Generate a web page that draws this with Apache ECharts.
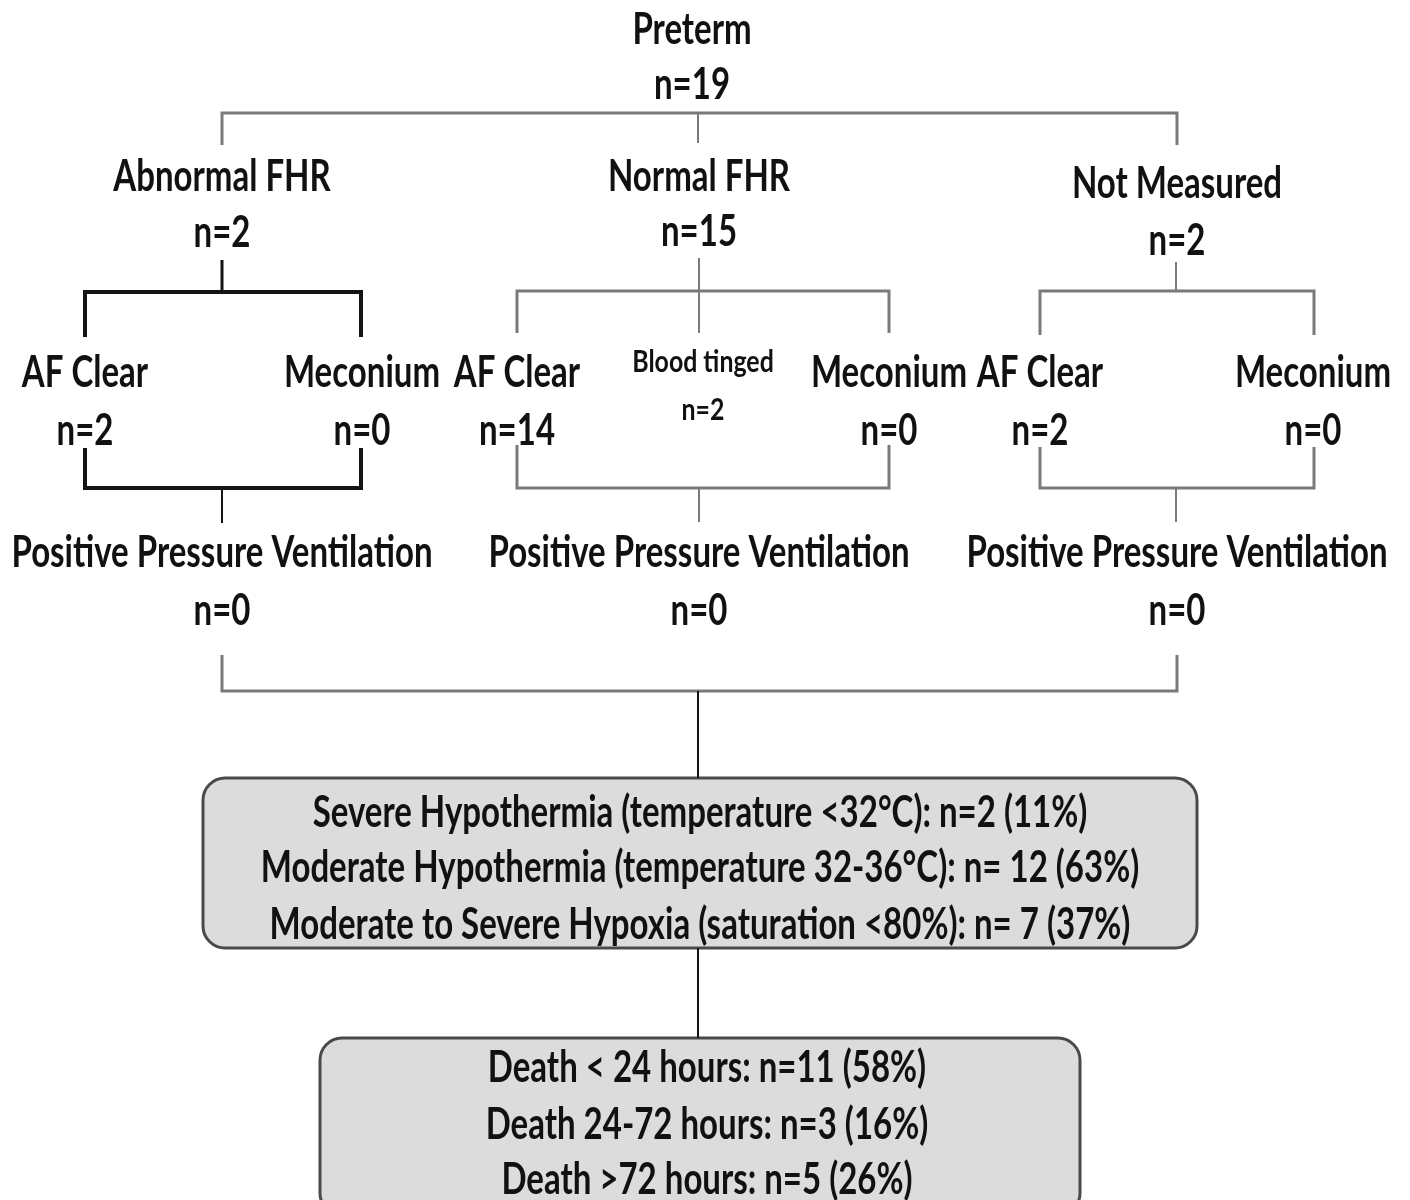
<!DOCTYPE html>
<html>
<head>
<meta charset="utf-8">
<script src="https://cdn.jsdelivr.net/npm/echarts@6/dist/echarts.min.js"></script>
<style>
  html, body { margin: 0; padding: 0; background: #fff; }
  #main { width: 1410px; height: 1200px; }
</style>
</head>
<body>
<div id="main"></div>
<script>
// ---- data ----
const rootName = 'Preterm';
const rootCount = 19;
const fhrGroups = ['Abnormal FHR', 'Normal FHR', 'Not Measured'];
const fhrCounts = [2, 15, 2];
const fluidNames = [['AF Clear', 'Meconium'], ['AF Clear', 'Blood tinged', 'Meconium'], ['AF Clear', 'Meconium']];
const fluidCounts = [[2, 0], [14, 2, 0], [2, 0]];
const ppvName = 'Positive Pressure Ventilation';
const ppvCounts = [0, 0, 0];
const hypoNames = [
  'Severe Hypothermia (temperature <32°C): n=',
  'Moderate Hypothermia (temperature 32-36°C): n= ',
  'Moderate to Severe Hypoxia (saturation <80%): n= '
];
const hypoCounts = [2, 12, 7];
const hypoPct = [11, 63, 37];
const deathNames = ['Death < 24 hours: n=', 'Death 24-72 hours: n=', 'Death >72 hours: n='];
const deathCounts = [11, 3, 5];
const deathPct = [58, 16, 26];

// ---- layout (pixel-like coords on a hidden 1410 x 1200 grid) ----
const colX = [222, 699, 1177];
const fluidX = [[85, 362], [517, 703, 889], [1040, 1313]];
const grpNameY = [177, 177, 184];
const grpCountY = [233, 232, 241];
const GRAY = '#7a7a7a', BLACK = '#141414';

var chartDom = document.getElementById('main');
var myChart = echarts.init(chartDom, null, { renderer: 'canvas' });

// texts
let texts = [];
function addText(x, y, text, size, sx) {
  texts.push({ value: [x, y], text: text, size: size || 44, sx: sx || 0.75 });
}
addText(692, 30, rootName);
addText(692, 85, 'n=' + rootCount);
fhrGroups.forEach((g, i) => {
  addText(colX[i], grpNameY[i], g);
  addText(colX[i], grpCountY[i], 'n=' + fhrCounts[i]);
  fluidNames[i].forEach((f, j) => {
    if (f === 'Blood tinged') {
      addText(fluidX[i][j], 362, f, 30, 0.83);
      addText(fluidX[i][j], 410, 'n=' + fluidCounts[i][j], 30, 0.83);
    } else {
      addText(fluidX[i][j], 373, f);
      addText(fluidX[i][j], 431, 'n=' + fluidCounts[i][j]);
    }
  });
  addText(colX[i], 553, ppvName);
  addText(colX[i], 611, 'n=' + ppvCounts[i]);
});
hypoNames.forEach((h, i) => {
  addText(700, [813, 868, 925][i], h + hypoCounts[i] + ' (' + hypoPct[i] + '%)');
});
deathNames.forEach((d, i) => {
  addText(707, [1068, 1125, 1180][i], d + deathCounts[i] + ' (' + deathPct[i] + '%)');
});

// connectors
function seg(coords, color, width) {
  return { coords: coords, lineStyle: { color: color, width: width } };
}
const connectors = [
  seg([[222, 145], [222, 113], [1177, 113], [1177, 145]], GRAY, 3),
  seg([[698, 113], [698, 143]], GRAY, 2),
  // upper brackets
  seg([[222, 260], [222, 292]], BLACK, 3),
  seg([[85, 337], [85, 292], [361, 292], [361, 337]], BLACK, 4),
  seg([[699, 258], [699, 333]], GRAY, 2),
  seg([[517, 333], [517, 291], [889, 291], [889, 333]], GRAY, 3),
  seg([[1176, 262], [1176, 291]], GRAY, 2),
  seg([[1040, 335], [1040, 291], [1314, 291], [1314, 335]], GRAY, 3),
  // lower brackets
  seg([[85, 448], [85, 488], [361, 488], [361, 448]], BLACK, 4),
  seg([[222, 488], [222, 523]], BLACK, 2),
  seg([[517, 445], [517, 488], [889, 488], [889, 445]], GRAY, 3),
  seg([[699, 488], [699, 522]], GRAY, 2),
  seg([[1040, 447], [1040, 488], [1314, 488], [1314, 447]], GRAY, 3),
  seg([[1176, 488], [1176, 522]], GRAY, 2),
  // merge to outcomes
  seg([[222, 655], [222, 691], [1177, 691], [1177, 655]], GRAY, 3),
  seg([[698, 691], [698, 778]], BLACK, 2),
  seg([[698, 948], [698, 1038]], BLACK, 2)
];

const boxes = [
  { value: [203, 778, 1197, 948] },
  { value: [320, 1038, 1080, 1215] }
];

var option = {
  animation: false,
  grid: { left: 0, right: 0, top: 0, bottom: 0 },
  xAxis: { type: 'value', min: 0, max: 1410, show: false },
  yAxis: { type: 'value', min: 0, max: 1200, inverse: true, show: false },
  series: [
    {
      type: 'custom',
      coordinateSystem: 'cartesian2d',
      data: boxes,
      encode: { x: [0, 2], y: [1, 3] },
      renderItem: function (params, api) {
        const p1 = api.coord([api.value(0), api.value(1)]);
        const p2 = api.coord([api.value(2), api.value(3)]);
        return {
          type: 'rect',
          shape: { x: p1[0], y: p1[1], width: p2[0] - p1[0], height: p2[1] - p1[1], r: 22 },
          style: { fill: '#dcdcdc', stroke: '#4a4a4a', lineWidth: 3 }
        };
      }
    },
    {
      type: 'lines',
      coordinateSystem: 'cartesian2d',
      polyline: true,
      data: connectors,
      lineStyle: { opacity: 1 }
    },
    {
      type: 'custom',
      coordinateSystem: 'cartesian2d',
      data: texts,
      renderItem: function (params, api) {
        const item = texts[params.dataIndex];
        const p = api.coord([api.value(0), api.value(1)]);
        return {
          type: 'text',
          x: p[0],
          y: p[1],
          scaleX: item.sx,
          style: {
            text: item.text,
            font: 'bold ' + item.size + 'px Lato',
            fill: '#111',
            textAlign: 'center',
            textVerticalAlign: 'middle'
          }
        };
      }
    }
  ]
};

if (option && typeof option === 'object') {
  myChart.setOption(option);
}
window.addEventListener('resize', myChart.resize);
</script>
</body>
</html>
